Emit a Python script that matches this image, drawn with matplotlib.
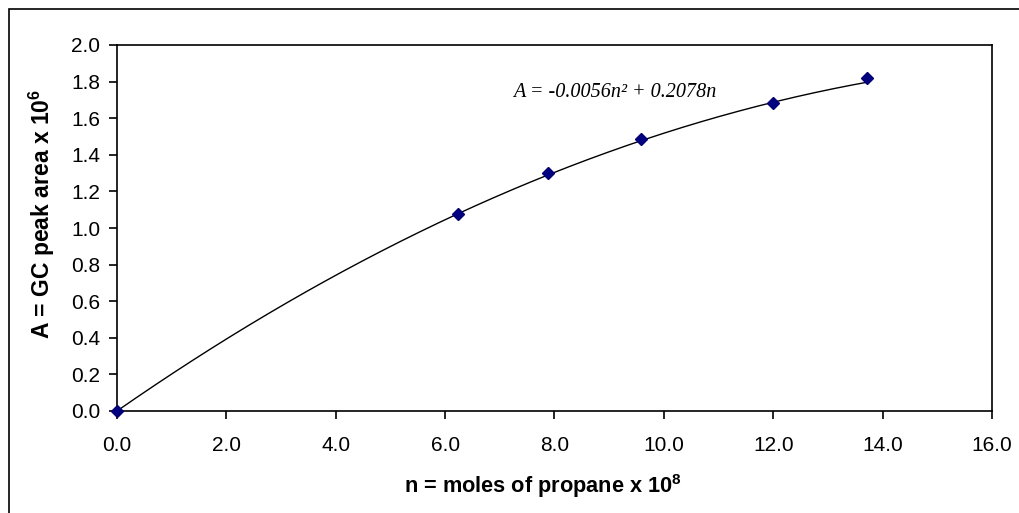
"""
GC calibration curve for propane
"""
import numpy as np
import matplotlib
matplotlib.use("Agg")
import matplotlib.pyplot as plt
from matplotlib.patches import Rectangle

# measured points
moles = [0.0, 6.23, 7.89, 9.58, 12.0, 13.72]
peak_area = [0.0, 1.075, 1.302, 1.486, 1.681, 1.818]

# trendline coefficients (A = a*n^2 + b*n)
coef_a = -0.0056
coef_b = 0.2078

x_ticks = [0, 2, 4, 6, 8, 10, 12, 14, 16]
y_ticks = [0.0, 0.2, 0.4, 0.6, 0.8, 1.0, 1.2, 1.4, 1.6, 1.8, 2.0]

plt.rcParams["font.family"] = ["Liberation Sans", "DejaVu Sans"]
plt.rcParams["mathtext.fontset"] = "custom"
plt.rcParams["mathtext.rm"] = "Liberation Sans"
plt.rcParams["mathtext.bf"] = "Liberation Sans:bold"

fig = plt.figure(figsize=(10.2, 5.13), dpi=100)
ax = fig.add_axes([117 / 1020, 1 - 411 / 513, 875 / 1020, 366 / 513])

# outer chart border
fig.patches.append(Rectangle((9 / 1020, -0.1), 1.2, 1 - 9 / 513 + 0.1,
                             transform=fig.transFigure, fill=False,
                             edgecolor="black", linewidth=1.2))

n = np.linspace(0, max(moles), 200)
ax.plot(n, coef_a * n ** 2 + coef_b * n, color="black", linewidth=1.0)
ax.plot(moles, peak_area, linestyle="none", marker="D", markersize=6.5,
        color="#000080", clip_on=False, zorder=3)

ax.text(7.25, 1.74, "A = -0.0056n\u00b2 + 0.2078n", fontsize=14.5,
        family="Liberation Serif", style="italic", va="center")

ax.set_xlim(0, 16)
ax.set_ylim(0, 2.0)
ax.set_xticks(x_ticks)
ax.set_xticklabels(["%.1f" % v for v in x_ticks])
ax.set_yticks(y_ticks)
ax.set_yticklabels(["%.1f" % v for v in y_ticks])
ax.tick_params(direction="out", length=6, width=1.2, labelsize=15, pad=6)
ax.tick_params(axis="x", pad=12)
for s in ax.spines.values():
    s.set_linewidth(1.2)

ax.set_xlabel(r"n = moles of propane x 10$^\mathbf{8}$", fontsize=15.7,
              fontweight="bold")
ax.set_ylabel(r"A = GC peak area x 10$^\mathbf{6}$", fontsize=16.5,
              fontweight="bold")
ax.xaxis.set_label_coords(0.487, -0.168)
ax.yaxis.set_label_coords(-0.068, 0.54)

fig.savefig("out.png", dpi=100)
